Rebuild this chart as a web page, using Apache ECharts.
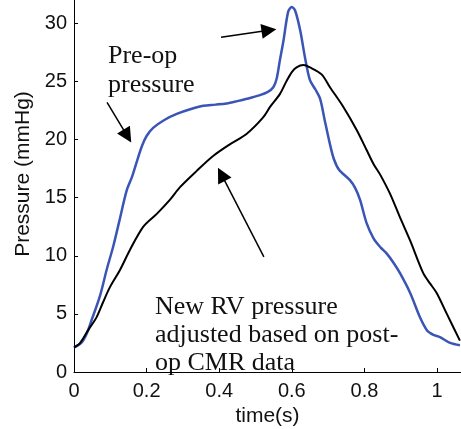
<!DOCTYPE html>
<html>
<head>
<meta charset="utf-8">
<script src="https://cdn.jsdelivr.net/npm/echarts@6/dist/echarts.min.js"></script>
<style>html,body{margin:0;padding:0;background:#fff}#c{width:461px;height:429px}</style>
</head>
<body>
<div id="c"></div>
<script>
// Pre-op pressure (blue): [time(s), pressure(mmHg)]
var preOp = [
  [0, 2.1], [0.02, 2.5], [0.035, 3.3], [0.05, 4.6], [0.072, 6.6], [0.09, 8.8],
  [0.108, 10.8], [0.125, 13.0], [0.145, 15.6], [0.16, 16.8], [0.175, 18.3],
  [0.188, 19.5], [0.2, 20.3], [0.218, 21.0], [0.25, 21.7], [0.283, 22.2],
  [0.32, 22.6], [0.356, 22.9], [0.39, 23.0], [0.42, 23.1], [0.45, 23.3],
  [0.476, 23.5], [0.51, 23.8], [0.534, 24.1], [0.549, 24.5], [0.558, 25.2],
  [0.567, 26.8], [0.577, 28.5], [0.59, 31.0], [0.6, 31.4], [0.609, 31.1],
  [0.623, 29.4], [0.636, 27.1], [0.65, 25.1], [0.665, 24.3], [0.678, 23.5],
  [0.691, 21.6], [0.705, 19.6], [0.716, 18.3], [0.73, 17.4], [0.76, 16.5],
  [0.775, 15.8], [0.788, 14.8], [0.806, 12.8], [0.825, 11.5], [0.845, 10.7],
  [0.861, 10.2], [0.88, 9.4], [0.898, 8.5], [0.926, 6.8], [0.953, 4.7],
  [0.972, 3.6], [0.99, 3.2], [1.008, 3.0], [1.036, 2.5], [1.063, 2.3]
];
// New RV pressure (black)
var newRV = [
  [0, 2.1], [0.017, 2.5], [0.039, 3.6], [0.062, 4.7], [0.08, 6.0], [0.099, 7.3],
  [0.127, 8.8], [0.154, 10.5], [0.191, 12.5], [0.228, 13.6], [0.264, 14.8],
  [0.292, 15.9], [0.338, 17.3], [0.384, 18.6], [0.43, 19.6], [0.476, 20.5],
  [0.521, 21.9], [0.54, 22.8], [0.567, 23.9], [0.585, 25.0], [0.6, 25.8],
  [0.613, 26.2], [0.632, 26.4], [0.65, 26.2], [0.682, 25.6], [0.705, 24.5],
  [0.742, 22.8], [0.779, 20.8], [0.806, 19.1], [0.825, 17.9], [0.843, 17.0],
  [0.871, 15.3], [0.898, 13.3], [0.926, 11.3], [0.962, 8.5], [0.981, 7.6],
  [0.999, 6.8], [1.027, 5.0], [1.063, 2.7]
];
// annotation arrows: [[fromX, fromY], [toX, toY]] in data units
var arrows = [
  [[0.091, 23.2], [0.147, 20.3]],
  [[0.405, 28.8], [0.537, 29.4]],
  [[0.523, 9.9], [0.406, 17.0]]
];
var xTickInterval = 0.2;
var yTickInterval = 5;

var serif = '"Liberation Serif", "Times New Roman", serif';
var sans = '"Liberation Sans", Arial, sans-serif';

var chart = echarts.init(document.getElementById('c'), null, {renderer: 'canvas'});
function txt(s, x, y) {
  return {type: 'text', left: x, top: y, silent: true,
    style: {text: s, font: '26px ' + serif, fill: '#111'}};
}
chart.setOption({
  animation: false,
  backgroundColor: '#fff',
  grid: {left: 74, top: 0, right: 0, bottom: 57, containLabel: false, outerBoundsMode: 'none'},
  xAxis: {
    type: 'value', min: 0, max: 1.066, interval: xTickInterval,
    name: 'time(s)', nameLocation: 'middle', nameGap: 30,
    nameTextStyle: {fontFamily: sans, fontSize: 21, color: '#111'},
    axisLine: {show: true, lineStyle: {color: '#000', width: 1}},
    axisTick: {show: true, inside: true, length: 4, lineStyle: {color: '#000'}},
    axisLabel: {fontFamily: sans, fontSize: 20, color: '#111', margin: 9, showMaxLabel: false},
    splitLine: {show: false}
  },
  yAxis: {
    type: 'value', min: 0, max: 32, interval: yTickInterval,
    name: 'Pressure (mmHg)', nameLocation: 'middle', nameGap: 40,
    nameTextStyle: {fontFamily: sans, fontSize: 21, color: '#111', padding: [0, 0, 0, 24]},
    axisLine: {show: true, lineStyle: {color: '#000', width: 1}},
    axisTick: {show: true, inside: true, length: 4, lineStyle: {color: '#000'}},
    axisLabel: {fontFamily: sans, fontSize: 20, color: '#111', margin: 7, showMaxLabel: false},
    splitLine: {show: false}
  },
  series: [
    {
      type: 'line', data: preOp, showSymbol: false, smooth: 0.3,
      lineStyle: {color: '#3a55b6', width: 2.5}
    },
    {
      type: 'line', data: newRV, showSymbol: false, smooth: 0.3,
      lineStyle: {color: '#000', width: 2},
      markLine: {
        silent: true, symbol: ['none', 'triangle'], symbolSize: 15,
        label: {show: false},
        lineStyle: {color: '#000', width: 1.5, type: 'solid'},
        data: arrows.map(function (a) {
          return [{coord: a[0]}, {coord: a[1]}];
        })
      }
    }
  ],
  graphic: [
    txt('Pre-op', 108, 43),
    txt('pressure', 108, 72),
    txt('New RV pressure', 155, 294),
    txt('adjusted based on post-', 155, 322),
    txt('op CMR data', 155, 350)
  ]
});
</script>
</body>
</html>
